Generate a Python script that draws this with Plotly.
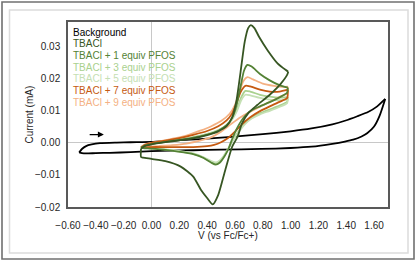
import plotly.graph_objects as go

# ---------------- data (potential V vs Fc/Fc+, current mA) ----------------
series_names = ["Background", "TBACl", "TBACl + 1 equiv PFOS", "TBACl + 3 equiv PFOS",
                "TBACl + 5 equiv PFOS", "TBACl + 7 equiv PFOS", "TBACl + 9 equiv PFOS"]

bg_v = [-0.52, -0.50, -0.47, -0.43, -0.37, -0.25, -0.15, 0.00, 0.14, 0.35, 0.55, 0.80, 1.00, 1.15,
        1.30, 1.39, 1.48, 1.56, 1.62, 1.68,
        1.64, 1.60, 1.55, 1.51, 1.45, 1.39, 1.30, 1.15, 1.00, 0.79, 0.50, 0.30, 0.14, 0.00, -0.15,
        -0.30, -0.40, -0.47, -0.50, -0.52]
bg_i = [-0.0030, -0.0019, -0.0010, -0.0005, -0.0001, 0.0001, 0.0002, 0.0003, 0.0007, 0.0012, 0.0018,
        0.0027, 0.0036, 0.0045, 0.0058, 0.0069, 0.0083, 0.0097, 0.0113, 0.0137,
        0.0085, 0.0051, 0.0030, 0.0020, 0.0010, 0.0004, -0.0003, -0.0012, -0.0016, -0.0019, -0.0021,
        -0.0023, -0.0024, -0.0026, -0.0029, -0.0031, -0.0032, -0.0033, -0.0032, -0.0030]

tbacl_v = [-0.075, -0.05, 0.0, 0.1, 0.2, 0.3, 0.4, 0.48, 0.54, 0.58, 0.61, 0.64, 0.67, 0.695, 0.714,
           0.74, 0.774, 0.834, 0.906, 0.966, 0.983,
           0.975, 0.93, 0.85, 0.76, 0.70, 0.65, 0.62, 0.58, 0.53, 0.48, 0.44, 0.40, 0.355, 0.30, 0.21,
           0.10, 0.0, -0.06, -0.075, -0.075]
tbacl_i = [-0.0018, -0.0010, -0.0005, 0.0002, 0.0008, 0.0014, 0.0024, 0.0036, 0.0052, 0.0080, 0.0130,
           0.0220, 0.0315, 0.0358, 0.0367, 0.0358, 0.0330, 0.0289, 0.0248, 0.0227, 0.0222,
           0.0212, 0.0185, 0.0150, 0.0118, 0.0095, 0.0060, 0.0020, -0.0012, -0.0085, -0.0162, -0.0192,
           -0.0172, -0.0146, -0.0105, -0.0074, -0.0057, -0.0050, -0.0046, -0.0044, -0.0018]

pfos1_v = [-0.075, -0.05, 0.0, 0.1, 0.2, 0.3, 0.4, 0.48, 0.54, 0.58, 0.61, 0.64, 0.665, 0.69, 0.72,
           0.78, 0.85, 0.92, 0.98,
           0.975, 0.92, 0.85, 0.78, 0.72, 0.67, 0.62, 0.58, 0.556, 0.525, 0.49, 0.462, 0.43, 0.375,
           0.30, 0.19, 0.10, 0.0, -0.06, -0.075]
pfos1_i = [-0.0015, -0.0009, -0.0004, 0.0003, 0.0009, 0.0016, 0.0026, 0.0038, 0.0055, 0.0078, 0.0115,
           0.0175, 0.0225, 0.0243, 0.0238, 0.0215, 0.0195, 0.0180, 0.0172,
           0.0156, 0.0142, 0.0127, 0.0114, 0.0102, 0.0083, 0.0050, 0.0012, -0.0016, -0.0042, -0.0062,
           -0.0068, -0.0062, -0.0047, -0.0035, -0.0027, -0.0022, -0.0018, -0.0016, -0.0015]

pfos3_v = [-0.075, -0.05, 0.0, 0.1, 0.2, 0.3, 0.4, 0.48, 0.54, 0.58, 0.615, 0.645, 0.675, 0.71, 0.78,
           0.85, 0.92, 0.98,
           0.975, 0.92, 0.85, 0.78, 0.72, 0.67, 0.62, 0.58, 0.55, 0.52, 0.49, 0.465, 0.43, 0.375, 0.30,
           0.19, 0.10, 0.0, -0.06, -0.075]
pfos3_i = [-0.0014, -0.0008, -0.0003, 0.0004, 0.0010, 0.0017, 0.0027, 0.0039, 0.0055, 0.0075, 0.0105,
           0.0142, 0.0162, 0.0160, 0.0150, 0.0144, 0.0141, 0.0143,
           0.0128, 0.0116, 0.0104, 0.0092, 0.0078, 0.0060, 0.0032, 0.0005, -0.0020, -0.0042, -0.0058,
           -0.0064, -0.0059, -0.0046, -0.0034, -0.0026, -0.0021, -0.0017, -0.0015, -0.0014]

pfos5_v = [-0.075, -0.05, 0.0, 0.1, 0.2, 0.3, 0.4, 0.48, 0.54, 0.58, 0.615, 0.645, 0.675, 0.71, 0.78,
           0.85, 0.92, 0.98,
           0.975, 0.92, 0.85, 0.78, 0.72, 0.67, 0.62, 0.58, 0.55, 0.52, 0.49, 0.465, 0.43, 0.375, 0.30,
           0.19, 0.10, 0.0, -0.06, -0.075]
pfos5_i = [-0.0013, -0.0007, -0.0002, 0.0005, 0.0011, 0.0018, 0.0028, 0.0040, 0.0055, 0.0073, 0.0100,
           0.0133, 0.0150, 0.0148, 0.0140, 0.0135, 0.0133, 0.0136,
           0.0124, 0.0112, 0.0100, 0.0089, 0.0076, 0.0058, 0.0030, 0.0004, -0.0019, -0.0040, -0.0055,
           -0.0061, -0.0057, -0.0045, -0.0033, -0.0025, -0.0020, -0.0016, -0.0014, -0.0013]

pfos7_v = [-0.075, -0.05, 0.0, 0.1, 0.2, 0.3, 0.4, 0.48, 0.54, 0.58, 0.61, 0.64, 0.675, 0.71, 0.78,
           0.85, 0.92, 0.98,
           0.975, 0.92, 0.85, 0.78, 0.71, 0.65, 0.60, 0.55, 0.50, 0.45, 0.40, 0.30, 0.20, 0.10, 0.0,
           -0.06, -0.075]
pfos7_i = [-0.0015, -0.0007, 0.0000, 0.0007, 0.0015, 0.0025, 0.0037, 0.0052, 0.0070, 0.0092, 0.0122,
           0.0158, 0.0178, 0.0176, 0.0166, 0.0160, 0.0160, 0.0166,
           0.0140, 0.0128, 0.0114, 0.0099, 0.0080, 0.0058, 0.0035, 0.0015, 0.0002, -0.0006, -0.0010,
           -0.0013, -0.0013, -0.0013, -0.0013, -0.0014, -0.0015]

pfos9_v = [-0.075, -0.05, 0.0, 0.11, 0.23, 0.35, 0.43, 0.50, 0.56, 0.60, 0.63, 0.66, 0.69, 0.73, 0.80,
           0.88, 0.94, 0.98,
           0.975, 0.92, 0.85, 0.78, 0.71, 0.64, 0.57, 0.50, 0.43, 0.355, 0.25, 0.15, 0.05, -0.03, -0.075]
pfos9_i = [-0.0013, -0.0005, 0.0000, 0.0009, 0.0020, 0.0038, 0.0052, 0.0068, 0.0090, 0.0118, 0.0155,
           0.0192, 0.0205, 0.0198, 0.0185, 0.0178, 0.0175, 0.0175,
           0.0155, 0.0143, 0.0128, 0.0113, 0.0097, 0.0080, 0.0058, 0.0035, 0.0018, 0.0008, -0.0002,
           -0.0007, -0.0010, -0.0012, -0.0013]

x_range = [-0.6, 1.7]
y_range = [-0.02, 0.0377]

# ---------------- styling ----------------
colors = ["#000000", "#375623", "#548235", "#a9d18e", "#c5e0b4", "#c55a11", "#f4b183"]
curves = [(bg_v, bg_i), (tbacl_v, tbacl_i), (pfos1_v, pfos1_i), (pfos3_v, pfos3_i),
          (pfos5_v, pfos5_i), (pfos7_v, pfos7_i), (pfos9_v, pfos9_i)]
draw_order = [0, 3, 4, 6, 5, 2, 1]

W, H = 418, 263
L, R, T, B = 68, 30, 22, 56
FONT = "Arial, 'Liberation Sans', sans-serif"


def px_x(p):
    return (p - L) / (W - L - R)


def px_y(p):
    return (H - B - p) / (H - T - B)


fig = go.Figure()
for k in draw_order:
    v, i = curves[k]
    turn = v.index(max(v))  # switching potential: split forward / reverse scans
    for seg_v, seg_i in ((v[:turn + 1], i[:turn + 1]), (v[turn:], i[turn:])):
        fig.add_trace(go.Scatter(x=seg_v, y=seg_i, mode="lines", name=series_names[k],
                                 line=dict(color=colors[k], width=1.8, shape="spline", smoothing=0.6),
                                 showlegend=False, hoverinfo="skip"))

annotations = []
# legend as coloured text
for k, name in enumerate(series_names):
    annotations.append(dict(text=name, x=px_x(71), y=px_y(32.3 + 11.65 * k), xref="paper", yref="paper",
                            xanchor="left", yanchor="middle", showarrow=False,
                            font=dict(family=FONT, size=10, color=colors[k])))
# axis titles
annotations.append(dict(text="Current (mA)", x=px_x(29), y=px_y(114.5), xref="paper", yref="paper",
                        textangle=-90, showarrow=False, xanchor="center", yanchor="middle",
                        font=dict(family=FONT, size=10, color="#262626")))
annotations.append(dict(text="V (vs Fc/Fc+)", x=px_x(228), y=px_y(235), xref="paper", yref="paper",
                        showarrow=False, xanchor="center", yanchor="middle",
                        font=dict(family=FONT, size=10, color="#262626")))
# scan direction arrow
arrow_tail = (-0.455, 0.0026)
arrow_head = (-0.342, 0.0026)
annotations.append(dict(text="", x=arrow_head[0], y=arrow_head[1], ax=arrow_tail[0], ay=arrow_tail[1],
                        xref="x", yref="y", axref="x", ayref="y", showarrow=True,
                        arrowhead=2, arrowsize=1, arrowwidth=1.2, arrowcolor="#000000"))

shapes = [
    dict(type="rect", xref="paper", yref="paper", x0=px_x(2), x1=px_x(414), y0=px_y(259), y1=px_y(2),
         line=dict(color="#707070", width=1.6), layer="below"),
    dict(type="rect", xref="paper", yref="paper", x0=px_x(9.5), x1=px_x(408), y0=px_y(253), y1=px_y(10),
         line=dict(color="#dcdcdc", width=1.5), layer="below"),
]

axis_common = dict(showgrid=False, zeroline=True, zerolinecolor="#c8c8c8", zerolinewidth=1,
                   showline=True, mirror=True, linecolor="#595959", linewidth=1.5, ticks="",
                   tickfont=dict(family=FONT, size=10, color="#262626"), tickformat=".2f")

fig.update_layout(
    width=W, height=H, margin=dict(l=L, r=R, t=T, b=B),
    paper_bgcolor="white", plot_bgcolor="white",
    xaxis=dict(range=x_range, tick0=-0.6, dtick=0.2, ticklabelstandoff=8, **axis_common),
    yaxis=dict(range=y_range, tick0=0, dtick=0.01, ticklabelstandoff=4, **axis_common),
    annotations=annotations, shapes=shapes, showlegend=False,
)

fig.write_html("out.html")
